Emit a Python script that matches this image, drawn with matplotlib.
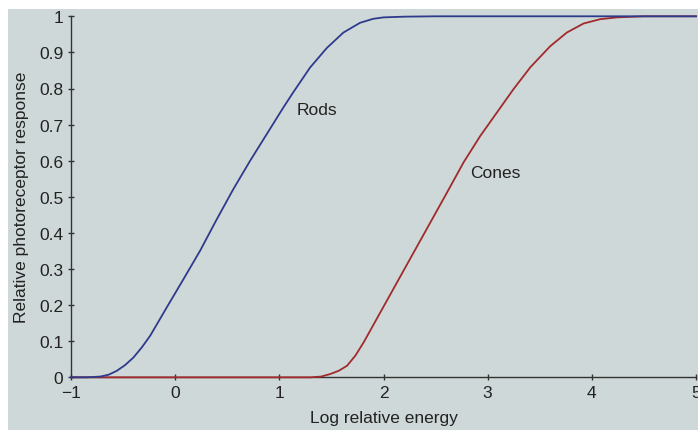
import matplotlib.pyplot as plt
from matplotlib.patches import Rectangle

# ── data ────────────────────────────────────────────────────
rods_x = [-1.0, -0.85, -0.72, -0.64, -0.56, -0.48, -0.40, -0.32, -0.24, -0.08,
          0.08, 0.24, 0.40, 0.56, 0.72, 0.88, 1.04, 1.135, 1.295, 1.455, 1.615,
          1.775, 1.9, 2.0, 2.2, 2.5, 3.0, 4.0, 5.0]
rods_y = [0.0, 0.0, 0.002, 0.007, 0.018, 0.034, 0.055, 0.083, 0.115, 0.194,
          0.272, 0.351, 0.438, 0.522, 0.600, 0.674, 0.748, 0.790, 0.858, 0.912, 0.955,
          0.982, 0.993, 0.997, 0.999, 1.0, 1.0, 1.0, 1.0]

cones_x = [-1.0, 0.0, 1.0, 1.30, 1.40, 1.488, 1.57, 1.65, 1.73, 1.81, 1.97, 2.13,
           2.29, 2.45, 2.61, 2.77, 2.93, 3.09, 3.25, 3.41, 3.6, 3.76, 3.92,
           4.08, 4.24, 4.5, 5.0]
cones_y = [0.0, 0.0, 0.0, 0.0, 0.002, 0.009, 0.018, 0.032, 0.060, 0.097, 0.180, 0.263,
           0.346, 0.429, 0.512, 0.596, 0.669, 0.734, 0.799, 0.859, 0.917, 0.955, 0.980,
           0.992, 0.997, 1.0, 1.0]

x_ticks = [-1, 0, 1, 2, 3, 4, 5]
x_labels = ['\u22121', '0', '1', '2', '3', '4', '5']
y_ticks = [0, 0.1, 0.2, 0.3, 0.4, 0.5, 0.6, 0.7, 0.8, 0.9, 1]
y_labels = ['0', '0.1', '0.2', '0.3', '0.4', '0.5', '0.6', '0.7', '0.8', '0.9', '1']

BG = '#cfd8d8'
ROD = '#2e3a8c'
CONE = '#a02a2c'
INK = '#222222'

plt.rcParams['font.family'] = ['Liberation Sans', 'DejaVu Sans']

fig = plt.figure(figsize=(6.98, 4.31), dpi=100)
fig.patch.set_facecolor('white')
fig.patches.append(Rectangle((8 / 698, 0), 1, (431 - 10) / 431,
                             transform=fig.transFigure, facecolor=BG,
                             edgecolor='none', zorder=-10))

ax = fig.add_axes([71 / 698, (431 - 378.3) / 431, 625 / 698, 361 / 431])
ax.set_facecolor('none')

ax.plot(cones_x, cones_y, color=CONE, lw=1.3, clip_on=False, zorder=3)
ax.plot(rods_x, rods_y, color=ROD, lw=1.3, clip_on=False, zorder=4)

ax.text(1.162, 0.743, 'Rods', fontsize=12.5, color=INK, va='center', ha='left')
ax.text(2.834, 0.566, 'Cones', fontsize=12.5, color=INK, va='center', ha='left')

ax.set_xlim(-1, 5)
ax.set_ylim(0, 1)
ax.set_xticks(x_ticks)
ax.set_xticklabels(x_labels)
ax.set_yticks(y_ticks)
ax.set_yticklabels(y_labels)

for s in ['top', 'right']:
    ax.spines[s].set_visible(False)
for s in ['left', 'bottom']:
    ax.spines[s].set_color('#333333')
    ax.spines[s].set_linewidth(1.0)

ax.tick_params(direction='inout', length=5, width=1, colors='#333333',
               labelcolor=INK, labelsize=12.5)
ax.tick_params(axis='x', pad=3)
ax.tick_params(axis='y', pad=3)

ax.set_xlabel('Log relative energy', fontsize=12.5, color=INK, labelpad=7)
ax.set_ylabel('Relative photoreceptor response', fontsize=12.5, color=INK, labelpad=7)

fig.savefig('out.png', dpi=100, facecolor='white')
